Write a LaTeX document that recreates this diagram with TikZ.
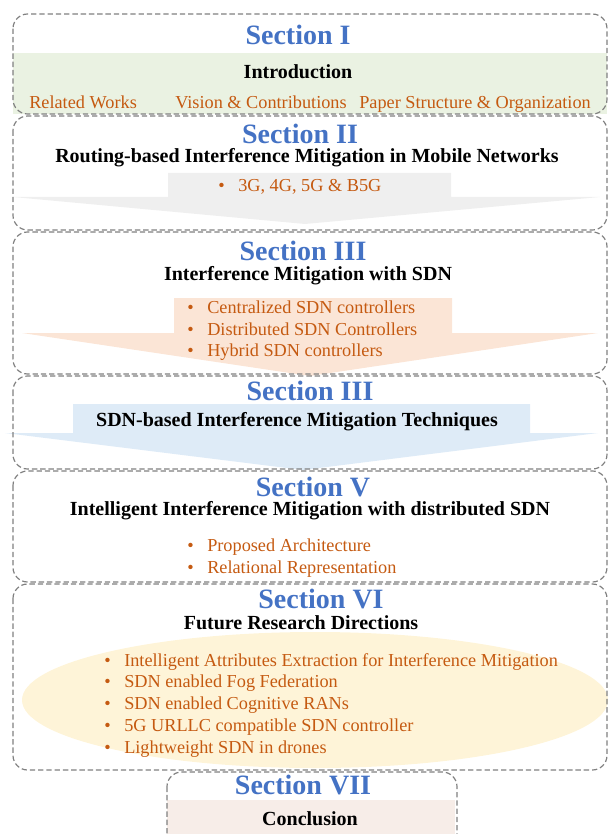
\documentclass[tikz,border=0pt]{standalone}
\usepackage{fontspec}
\setmainfont{Liberation Serif}
\definecolor{secblue}{HTML}{4472C4}
\definecolor{itemorange}{HTML}{C55A11}
\definecolor{framegray}{HTML}{808080}
\definecolor{introgreen}{HTML}{EAF2E2}
\definecolor{arrowgray}{HTML}{EFEFEF}
\definecolor{arroworange}{HTML}{FBE5D6}
\definecolor{arrowblue}{HTML}{DEEBF7}
\definecolor{futureyellow}{HTML}{FEF4D8}
\definecolor{conclpink}{HTML}{F7EDE8}
\newcommand{\bul}{\makebox[15pt][l]{•}}
\tikzset{
  secframe/.style={draw=framegray, line width=0.9pt, dash pattern=on 4pt off 2.2pt, rounded corners=11pt},
  sectitle/.style={font=\fontsize{21}{25}\selectfont\bfseries, text=secblue, anchor=base, inner sep=0pt},
  subtitle/.style={font=\fontsize{15}{18}\selectfont\bfseries, text=black, anchor=base, inner sep=0pt},
  itemtext/.style={font=\fontsize{13.7}{16}\selectfont, text=itemorange, anchor=base west, inner sep=0pt},
}
\begin{document}
\begin{tikzpicture}[x=0.75pt, y=-0.75pt]
\useasboundingbox (0,0) rectangle (610,834);
\clip (0,0) rectangle (610,834);

% ---- background fills ----
\fill[introgreen] (13,53) rectangle (607,114);
\fill[arrowgray] (168,173) -- (451,173) -- (451,197) -- (600,197) -- (305,224)
  -- (13,197) -- (168,197) -- cycle;
\fill[arroworange] (174,298) -- (452,298) -- (452,333) -- (598,333) -- (310,376)
  -- (22,333) -- (174,333) -- cycle;
\fill[arrowblue] (73,404) -- (530,404) -- (530,433) -- (598,433) -- (303,470)
  -- (5,433) -- (73,433) -- cycle;
\fill[futureyellow] (315,700) ellipse [x radius=293, y radius=68];
\fill[conclpink] (167,800) rectangle (455,840);

% ---- section frames ----
\draw[secframe] (13,14) rectangle (607,114);
\draw[secframe] (13,116) rectangle (607,230);
\draw[secframe] (13,232) rectangle (607,374);
\draw[secframe] (13,376) rectangle (607,469);
\draw[secframe] (13,471) rectangle (607,582);
\draw[secframe] (13,584) rectangle (607,770);
\draw[secframe] (167,772) rectangle (457,860);

% ---- Section I ----
\node[sectitle] (s1) at (298,45) {Section I};
\node[subtitle] (s1t) at (298,79) {Introduction};
\node[itemtext] (s1a) at (29,109) {Related Works};
\node[itemtext] (s1b) at (175,109) {Vision \& Contributions};
\node[itemtext] (s1c) at (359,109) {Paper Structure \& Organization};

% ---- Section II ----
\node[sectitle] (s2) at (300,144) {Section II};
\node[subtitle] (s2t) at (307,163) {Routing-based Interference Mitigation in Mobile Networks};
\node[itemtext] (s2a) at (218,192) {\bul 3G, 4G, 5G \& B5G};

% ---- Section III ----
\node[sectitle] (s3) at (303,260) {Section III};
\node[subtitle] (s3t) at (308,280) {Interference Mitigation with SDN};
\node[itemtext] (s3a) at (187,313) {\bul Centralized SDN controllers};
\node[itemtext] (s3b) at (187,335) {\bul Distributed SDN Controllers};
\node[itemtext] (s3c) at (187,356) {\bul Hybrid SDN controllers};

% ---- Section III (techniques) ----
\node[sectitle] (s4) at (310,400) {Section III};
\node[subtitle] (s4t) at (297,426) {SDN-based Interference Mitigation Techniques};

% ---- Section V ----
\node[sectitle] (s5) at (313,496) {Section V};
\node[subtitle] (s5t) at (310,515) {Intelligent Interference Mitigation with distributed SDN};
\node[itemtext] (s5a) at (187,551) {\bul Proposed Architecture};
\node[itemtext] (s5b) at (187,573) {\bul Relational Representation};

% ---- Section VI ----
\node[sectitle] (s6) at (321,608) {Section VI};
\node[subtitle] (s6t) at (301,629) {Future Research Directions};
\node[itemtext] (s6a) at (104,666) {\bul Intelligent Attributes Extraction for Interference Mitigation};
\node[itemtext] (s6b) at (104,687) {\bul SDN enabled Fog Federation};
\node[itemtext] (s6c) at (104,709) {\bul SDN enabled Cognitive RANs};
\node[itemtext] (s6d) at (104,731) {\bul 5G URLLC compatible SDN controller};
\node[itemtext] (s6e) at (104,753) {\bul Lightweight SDN in drones};

% ---- Section VII ----
\node[sectitle] (s7) at (303,794) {Section VII};
\node[subtitle] (s7t) at (310,825) {Conclusion};
\end{tikzpicture}
\end{document}
